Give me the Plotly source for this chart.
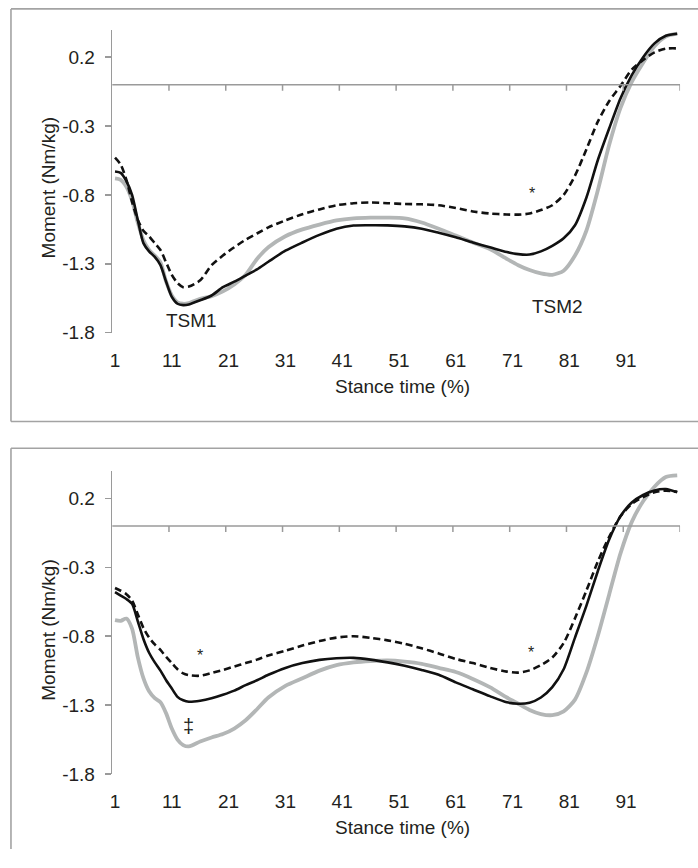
import plotly.graph_objects as go

# ---------------- data ----------------
x_grid = [1, 2, 3, 4, 5, 6, 7, 8, 9, 10, 11, 12, 13, 14, 16, 18, 20, 22, 24, 26,
          28, 31, 34, 37, 40, 43, 46, 49, 52, 55, 58, 61, 64, 67, 70, 72, 74, 76,
          78, 80, 82, 84, 86, 88, 90, 92, 94, 96, 98, 100]

x_tick_vals = [1, 11, 21, 31, 41, 51, 61, 71, 81, 91]
x_tick_text = ["1", "11", "21", "31", "41", "51", "61", "71", "81", "91"]
y_tick_vals = [-1.8, -1.3, -0.8, -0.3, 0.2]
y_tick_text = ["-1.8", "-1.3", "-0.8", "-0.3", "0.2"]
x_minor_ticks = [10.5, 20.5, 30.5, 40.5, 50.5, 60.5, 70.5, 80.5, 90.5, 100.5]

# top panel
top_solid = [-0.63, -0.64, -0.70, -0.80, -0.98, -1.15, -1.21, -1.25, -1.31, -1.43,
             -1.54, -1.59, -1.60, -1.595, -1.565, -1.53, -1.47, -1.43, -1.385, -1.34,
             -1.285, -1.205, -1.145, -1.09, -1.045, -1.022, -1.02, -1.021, -1.028, -1.045,
             -1.075, -1.108, -1.145, -1.18, -1.215, -1.23, -1.233, -1.21, -1.17, -1.115,
             -1.02, -0.82, -0.55, -0.32, -0.10, 0.07, 0.20, 0.30, 0.355, 0.37]
top_dashed = [-0.53, -0.58, -0.69, -0.85, -0.98, -1.06, -1.10, -1.15, -1.20, -1.29,
              -1.38, -1.44, -1.47, -1.465, -1.42, -1.31, -1.24, -1.18, -1.125, -1.08,
              -1.035, -0.985, -0.94, -0.905, -0.875, -0.86, -0.855, -0.86, -0.866, -0.868,
              -0.875, -0.895, -0.92, -0.935, -0.942, -0.943, -0.935, -0.91, -0.875, -0.80,
              -0.66, -0.47, -0.27, -0.12, -0.01, 0.11, 0.18, 0.235, 0.262, 0.264]
top_gray = [-0.68, -0.69, -0.74, -0.84, -1.00, -1.13, -1.20, -1.24, -1.29, -1.43,
            -1.53, -1.58, -1.59, -1.585, -1.555, -1.535, -1.50, -1.45, -1.38, -1.265,
            -1.18, -1.10, -1.05, -1.015, -0.985, -0.97, -0.965, -0.965, -0.97, -1.0,
            -1.045, -1.095, -1.145, -1.193, -1.265, -1.31, -1.345, -1.37, -1.38, -1.35,
            -1.24, -1.06, -0.77, -0.44, -0.17, 0.02, 0.16, 0.28, 0.35, 0.37]

# bottom panel
bot_solid = [-0.48, -0.505, -0.53, -0.565, -0.69, -0.82, -0.92, -0.99, -1.05, -1.12,
             -1.18, -1.24, -1.265, -1.276, -1.268, -1.25, -1.225, -1.195, -1.155, -1.12,
             -1.08, -1.03, -0.995, -0.972, -0.96, -0.957, -0.97, -0.99, -1.015, -1.045,
             -1.08, -1.135, -1.185, -1.235, -1.28, -1.29, -1.283, -1.245, -1.17, -1.04,
             -0.81, -0.58, -0.33, -0.10, 0.07, 0.17, 0.225, 0.258, 0.268, 0.245]
bot_dashed = [-0.45, -0.47, -0.495, -0.54, -0.64, -0.74, -0.81, -0.86, -0.90, -0.95,
              -0.995, -1.04, -1.07, -1.083, -1.087, -1.067, -1.045, -1.02, -0.995, -0.97,
              -0.94, -0.905, -0.868, -0.835, -0.81, -0.80, -0.812, -0.83, -0.855, -0.888,
              -0.925, -0.965, -0.995, -1.03, -1.057, -1.064, -1.048, -1.01, -0.955, -0.85,
              -0.67, -0.47, -0.26, -0.08, 0.07, 0.16, 0.21, 0.245, 0.257, 0.248]
bot_gray = [-0.683, -0.688, -0.672, -0.745, -0.95, -1.105, -1.20, -1.25, -1.28, -1.36,
            -1.47, -1.55, -1.59, -1.60, -1.565, -1.535, -1.51, -1.47, -1.41, -1.33,
            -1.245, -1.16, -1.105, -1.05, -1.01, -0.99, -0.98, -0.976, -0.984, -1.0,
            -1.03, -1.06, -1.11, -1.17, -1.245, -1.29, -1.335, -1.365, -1.373, -1.345,
            -1.26, -1.065, -0.80, -0.50, -0.20, 0.03, 0.18, 0.285, 0.355, 0.367]

# annotations: (text, x, y, size)
top_notes = [("TSM1", 14.4, -1.715, 19), ("TSM2", 78.9, -1.607, 19), ("*", 74.5, -0.79, 16)]
bot_notes = [("*", 16.0, -0.94, 16), ("*", 74.2, -0.92, 16), ("‡", 14.0, -1.45, 20)]

# ---------------- layout helpers ----------------
W, H = 698, 860
FONT = "Liberation Sans, Arial, sans-serif"
TXT = "#231f20"
AXC = "#9a9a9a"


def fx(p):
    return p / W


def fy(p):
    return 1 - p / H


x_dom = [fx(110.5), fx(680)]
top_dom = [fy(337), fy(30)]
bot_dom = [fy(784), fy(477)]

fig = go.Figure()

styles = [
    ("gray", dict(color="#b3b6b6", width=3.8)),
    ("solid", dict(color="#111111", width=2.6)),
    ("dashed", dict(color="#111111", width=2.6, dash="7px,4px")),
]

for xa, ya, series in [("x", "y", [top_gray, top_solid, top_dashed]),
                       ("x2", "y2", [bot_gray, bot_solid, bot_dashed])]:
    for (name, ln), vals in zip(styles, series):
        fig.add_trace(go.Scatter(x=x_grid, y=vals, mode="lines", name=name,
                                 line=dict(shape="spline", smoothing=0.7, **ln),
                                 xaxis=xa, yaxis=ya, showlegend=False,
                                 hoverinfo="skip", cliponaxis=False))

xcommon = dict(range=[0.5, 100.5], showgrid=False, zeroline=False, showline=False,
               tickmode="array", tickvals=x_tick_vals, ticktext=x_tick_text,
               ticks="", ticklabelstandoff=14,
               tickfont=dict(family=FONT, size=19, color=TXT), domain=x_dom)
ycommon = dict(range=[-1.8, 0.4], showgrid=False, zeroline=False, showline=True,
               linecolor=AXC, linewidth=1.5, ticks="outside", ticklen=6,
               tickwidth=1.5, tickcolor=AXC, tickmode="array", tickvals=y_tick_vals,
               ticktext=y_tick_text, ticklabelstandoff=6,
               tickfont=dict(family=FONT, size=19, color=TXT))

fig.update_layout(
    width=W, height=H, autosize=False,
    margin=dict(l=0, r=0, t=0, b=0),
    paper_bgcolor="white", plot_bgcolor="white",
    hovermode=False,
    xaxis=dict(anchor="y", **xcommon),
    yaxis=dict(anchor="x", domain=top_dom, **ycommon),
    xaxis2=dict(anchor="y2", **xcommon),
    yaxis2=dict(anchor="x2", domain=bot_dom, **ycommon),
)

shapes = []
# panel borders
bl = fx(9)
shapes += [
    dict(type="line", xref="paper", yref="paper", x0=bl, x1=bl, y0=fy(9), y1=fy(427)),
    dict(type="line", xref="paper", yref="paper", x0=bl, x1=1.0, y0=fy(9), y1=fy(9)),
    dict(type="line", xref="paper", yref="paper", x0=bl, x1=1.0, y0=fy(427), y1=fy(427)),
    dict(type="line", xref="paper", yref="paper", x0=bl, x1=bl, y0=fy(454), y1=0.0),
    dict(type="line", xref="paper", yref="paper", x0=bl, x1=1.0, y0=fy(454), y1=fy(454)),
]
for s in shapes:
    s["line"] = dict(color="#a3a3a3", width=1.6)

# zero lines with tick marks
for xr, yr in [("x", "y"), ("x2", "y2")]:
    shapes.append(dict(type="line", xref=xr, yref=yr, x0=0.5, x1=100.5, y0=0, y1=0,
                       line=dict(color=AXC, width=1.5)))
    for t in x_minor_ticks:
        shapes.append(dict(type="line", xref=xr, yref=yr, x0=t, x1=t,
                           ysizemode="pixel", yanchor=0, y0=0, y1=-6,
                           line=dict(color=AXC, width=1.5)))
fig.update_layout(shapes=shapes)

ann = []
for xr, yr, notes in [("x", "y", top_notes), ("x2", "y2", bot_notes)]:
    for txt, xv, yv, sz in notes:
        ann.append(dict(text=txt, x=xv, y=yv, xref=xr, yref=yr, showarrow=False,
                        xanchor="center", yanchor="middle",
                        font=dict(family=FONT, size=sz, color=TXT)))
# axis titles
for ty, my in [(392, 190), (838, 638)]:
    ann.append(dict(text="Stance time (%)", x=fx(402), y=fy(ty), xref="paper", yref="paper",
                    showarrow=False, xanchor="center", yanchor="middle",
                    font=dict(family=FONT, size=19, color=TXT)))
    ann.append(dict(text="Moment (Nm/kg)", x=fx(47), y=fy(my), xref="paper", yref="paper",
                    showarrow=False, textangle=-90, xanchor="center", yanchor="middle",
                    font=dict(family=FONT, size=19, color=TXT)))
fig.update_layout(annotations=ann)

fig.write_html(
    "out.html",
    config={"displayModeBar": False, "staticPlot": True},
    post_script="document.documentElement.style.margin='0';"
                "document.body.style.margin='0';"
                "document.documentElement.style.overflow='hidden';"
                "document.body.style.overflow='hidden';",
)
